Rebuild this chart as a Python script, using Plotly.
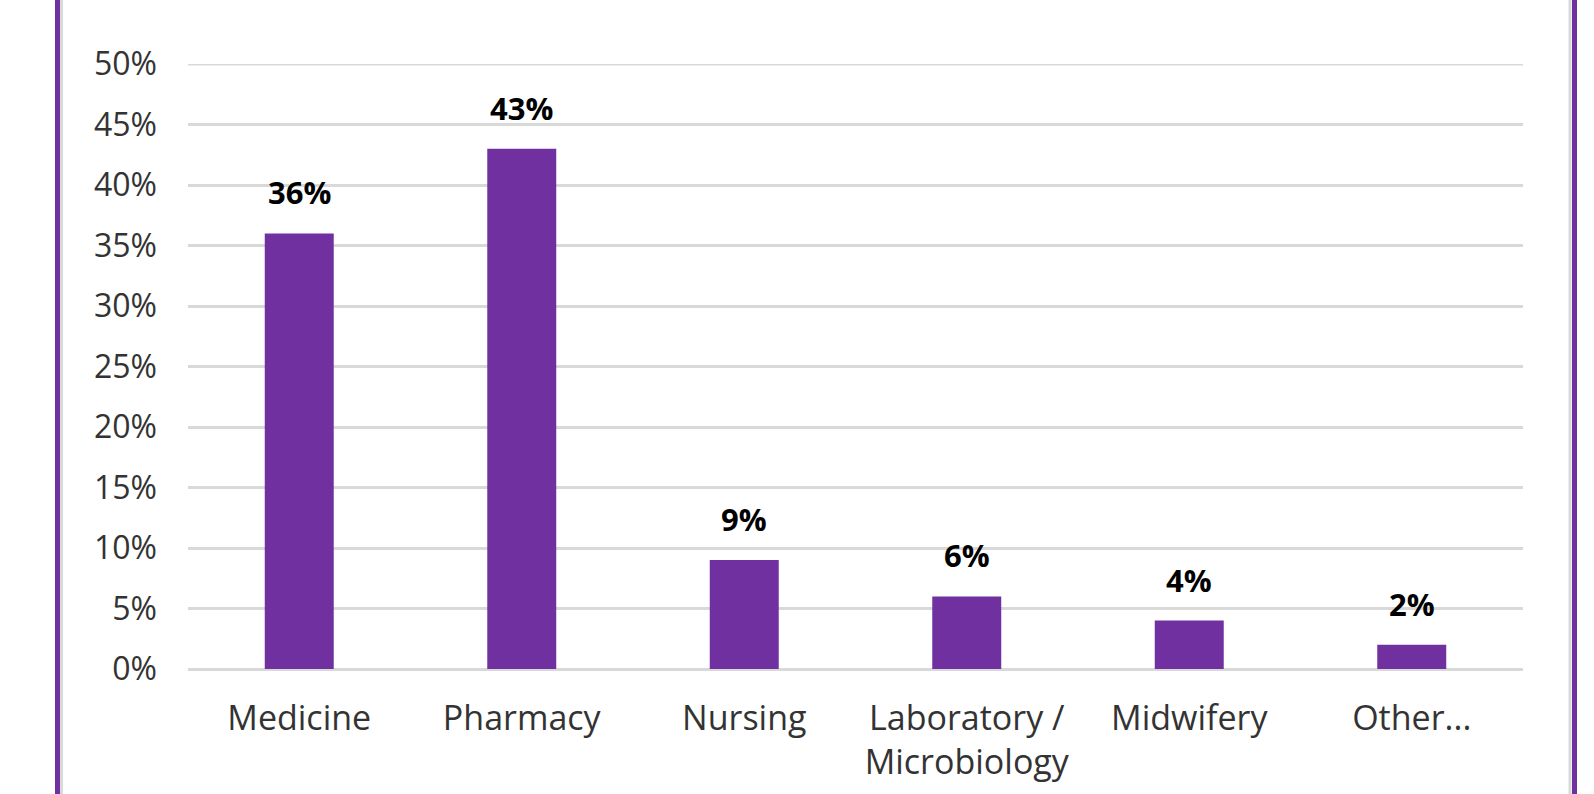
import plotly.graph_objects as go

categories = ["Medicine", "Pharmacy", "Nursing", "Laboratory /<br>Microbiology", "Midwifery", "Other..."]
values = [0.36, 0.43, 0.09, 0.06, 0.04, 0.02]
value_labels = ["36%", "43%", "9%", "6%", "4%", "2%"]
y_ticks = [0, 0.05, 0.10, 0.15, 0.20, 0.25, 0.30, 0.35, 0.40, 0.45, 0.50]
y_tick_labels = ["0%", "5%", "10%", "15%", "20%", "25%", "30%", "35%", "40%", "45%", "50%"]

PURPLE = "#7030A0"
FONT = "Open Sans, DejaVu Sans, sans-serif"

fig = go.Figure()
fig.add_trace(go.Bar(x=categories, y=values, marker=dict(color=PURPLE, line=dict(width=0)),
                     hoverinfo="skip"))

for c, v, t in zip(categories, values, value_labels):
    fig.add_annotation(x=c, y=v, text="<b>" + t + "</b>", showarrow=False,
                       yanchor="bottom", yshift=18,
                       font=dict(family=FONT, size=31, color="#000000"))

W, H = 1594, 794
L, R, T, B = 188, 71, 64, 125
pw = W - L - R

def px_to_paper_x(px):
    return (px - L) / pw

# top gridline at the axis maximum (plotly omits the grid line at the range edge)
fig.add_shape(type="line", xref="paper", yref="y", x0=0, x1=1,
              y0=y_ticks[-1], y1=y_ticks[-1], line=dict(color="#d9d9d9", width=3), layer="below")

# purple frame lines on the left and right (with faint gray shadow)
for xpx, col, w in [(61.5, "#d9d9d9", 3), (57.5, PURPLE, 5), (1570, "#d9d9d9", 3), (1574.5, PURPLE, 5)]:
    fig.add_shape(type="line", xref="paper", yref="paper",
                  x0=px_to_paper_x(xpx), x1=px_to_paper_x(xpx), y0=-0.5, y1=1.5,
                  line=dict(color=col, width=w), layer="above")

fig.update_layout(
    width=W, height=H,
    margin=dict(l=L, r=R, t=T, b=B, autoexpand=False),
    paper_bgcolor="white", plot_bgcolor="white",
    bargap=0.69,
    showlegend=False,
    font=dict(family=FONT, size=32, color="#404040"),
)
fig.update_xaxes(showgrid=False, showline=False, zeroline=False, ticks="",
                 tickfont=dict(family=FONT, size=34, color="#333333"),
                 ticklabelstandoff=26)
fig.update_yaxes(range=[0, 0.5], tickvals=y_ticks, ticktext=y_tick_labels,
                 showgrid=True, gridcolor="#d9d9d9", gridwidth=3,
                 zeroline=True, zerolinecolor="#d9d9d9", zerolinewidth=3,
                 showline=False, ticks="",
                 tickfont=dict(family=FONT, size=32, color="#333333"),
                 ticklabelstandoff=30)

fig.write_html("out.html")
